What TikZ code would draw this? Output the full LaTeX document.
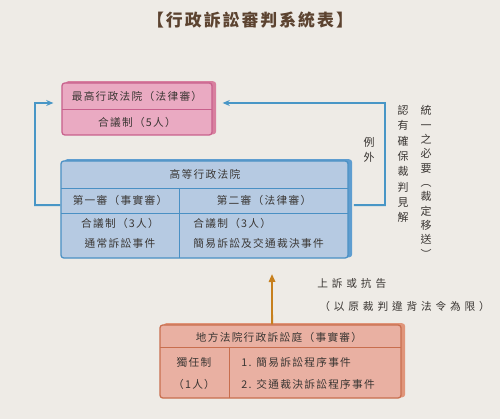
\documentclass[tikz,border=0pt]{standalone}
\usepackage{fontspec}
\setmainfont[LetterSpace=12]{Noto Sans CJK TC}
\newfontfamily\widefont[LetterSpace=36]{Noto Sans CJK TC}
\usetikzlibrary{arrows.meta,shadows}
\definecolor{paper}{HTML}{EEEBE6}
\definecolor{inkgray}{HTML}{3A3633}
\definecolor{titlebrown}{HTML}{5C4330}
\definecolor{pinkfill}{HTML}{EAAAC2}
\definecolor{pinkline}{HTML}{C8608C}
\definecolor{pinkside}{HTML}{D8809F}
\definecolor{bluefill}{HTML}{B6CAE2}
\definecolor{blueline}{HTML}{4A90C4}
\definecolor{blueside}{HTML}{5E9DD0}
\definecolor{salmonfill}{HTML}{E9B0A2}
\definecolor{salmonline}{HTML}{C86E4E}
\definecolor{salmonside}{HTML}{E0957A}
\definecolor{linkblue}{HTML}{4896C6}
\definecolor{linkorange}{HTML}{C7801E}

\begin{document}
\begin{tikzpicture}[x=0.25mm, y=-0.25mm, >=Stealth, line width=1pt,
    font=\fontsize{7.6}{9}\selectfont, text=inkgray,
    box/.style={draw=#1line, fill=#1fill, rounded corners=0.7mm, line width=0.9pt,
      copy shadow={shadow xshift=0.9mm, shadow yshift=0.3mm, fill=#1side, draw=#1side}},
    rule/.style={draw=#1line, line width=0.7pt},
    bluelink/.style={draw=linkblue, line width=1.3pt},
    vtext/.style={align=center, font=\fontsize{7.8}{#1}\selectfont}]
  \fill[paper] (0,0) rectangle (500,419);
  \useasboundingbox (0,0) rectangle (500,419);

  \node[font=\bfseries\fontsize{12}{14}\selectfont, text=titlebrown] (title) at (250,20) {【行政訴訟審判系統表】};

  % supreme administrative court
  \node[box=pink, minimum width=37.5mm, minimum height=13mm] (top) at (137,109) {};
  \draw[rule=pink] (62,109) -- (212,109);
  \node (topname) at (137,96) {最高行政法院（法律審）};
  \node (topjudge) at (137,122) {合議制（5人）};

  % high administrative court
  \node[box=blue, minimum width=71.75mm, minimum height=24.25mm] (mid) at (204.5,209.5) {};
  \draw[rule=blue] (61,188) -- (348,188) (61,213) -- (348,213) (179,188) -- (179,258);
  \node (midname) at (205,174) {高等行政法院};
  \node (first) at (120,200) {第一審（事實審）};
  \node (second) at (264,200) {第二審（法律審）};
  \node (firstjudge) at (120,223) {合議制（3人）};
  \node (firstcase) at (120,243) {通常訴訟事件};
  \node[anchor=west] (secondjudge) at (188,223) {合議制（3人）};
  \node[anchor=west] (secondcase) at (188,243) {簡易訴訟及交通裁決事件};

  % district court
  \node[box=salmon, minimum width=60.25mm, minimum height=18.25mm] (low) at (280.5,361.5) {};
  \draw[rule=salmon] (160,347) -- (401,347) (229,347) -- (229,398);
  \node (lowname) at (279,337) {地方法院行政訴訟庭（事實審）};
  \node (lowjudge) at (194,362) {獨任制};
  \node (lownum) at (194,384) {（1人）};
  \node[anchor=west] (lowcase1) at (236,362) {1. 簡易訴訟程序事件};
  \node[anchor=west] (lowcase2) at (236,384) {2. 交通裁決訴訟程序事件};

  % appeal
  \coordinate (apl) at (272,274);
  \draw[draw=linkorange, line width=1.3pt, -{Triangle[length=2mm,width=1.6mm]}] ([xshift=-2.1mm]low.north) -- (apl);
  \node[anchor=west, font=\widefont\fontsize{7.6}{9}\selectfont] (appeal) at (312,283) {上訴或抗告};
  \node[anchor=west, font=\widefont\fontsize{7.6}{9}\selectfont] (limit) at (314,306) {（以原裁判違背法令為限）};

  % links to the supreme court
  \coordinate (lc) at (35,103);
  \coordinate (rc) at (385,103);
  \draw[bluelink, -{Stealth[length=1.8mm,width=1.5mm]}] ([yshift=1.1mm]mid.west) -| (lc) -- ([xshift=-2mm,yshift=1.5mm]top.west);
  \draw[bluelink, -{Stealth[length=1.8mm,width=1.5mm]}] ([xshift=1.3mm,yshift=1.1mm]mid.east) -| (rc) -- ([xshift=2.5mm,yshift=1.5mm]top.east);
  \node[vtext=10.7] (exc) at (369,150) {例\\外};
  \node[vtext=10.9] (reason1) at (403,164) {認\\有\\確\\保\\裁\\判\\見\\解};
  \node[vtext=10.2] (reason2) at (426,182) {統\\一\\之\\必\\要\\︵\\裁\\定\\移\\送\\︶};
\end{tikzpicture}
\end{document}
